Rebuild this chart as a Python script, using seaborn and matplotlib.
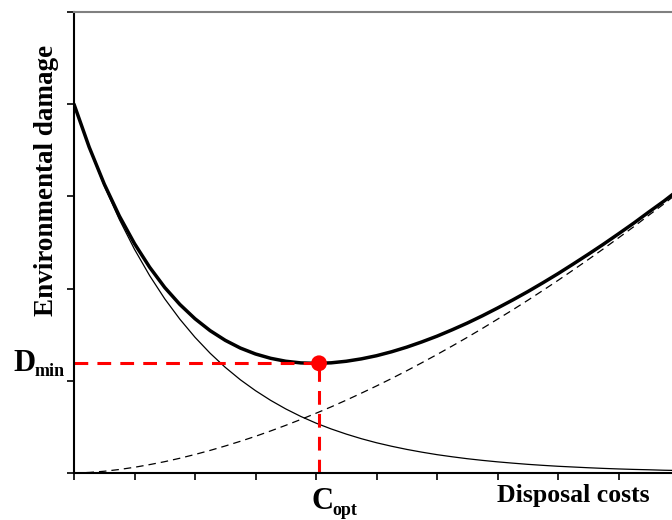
import matplotlib
matplotlib.use("Agg")
import matplotlib.pyplot as plt
import matplotlib.transforms as mtransforms
import seaborn as sns
import pandas as pd

# ---- data ----
x_vals = [0, 0.25, 0.5, 0.75, 1, 1.25, 1.5, 1.75, 2, 2.25, 2.5, 2.75, 3, 3.25, 3.5, 3.75,
          4, 4.25, 4.5, 4.75, 5, 5.25, 5.5, 5.75, 6, 6.25, 6.5, 6.75, 7, 7.25, 7.5, 7.75,
          8, 8.25, 8.5, 8.75, 9, 9.25, 9.5, 9.75, 10]
damage_vals = [4.000, 3.530, 3.115, 2.749, 2.426, 2.141, 1.889, 1.668, 1.472, 1.299, 1.146,
               1.011, 0.893, 0.788, 0.695, 0.613, 0.541, 0.478, 0.422, 0.372, 0.328, 0.290,
               0.256, 0.226, 0.199, 0.176, 0.155, 0.137, 0.121, 0.107, 0.094, 0.083, 0.073,
               0.065, 0.057, 0.050, 0.044, 0.039, 0.035, 0.030, 0.027]
cost_vals = [0.000, 0.006, 0.019, 0.038, 0.062, 0.091, 0.123, 0.160, 0.201, 0.245, 0.293,
             0.344, 0.398, 0.456, 0.517, 0.581, 0.648, 0.717, 0.790, 0.866, 0.944, 1.025,
             1.109, 1.196, 1.285, 1.377, 1.471, 1.568, 1.668, 1.769, 1.873, 1.980, 2.089,
             2.201, 2.315, 2.431, 2.550, 2.670, 2.795, 2.918, 3.048]
total_vals = [4.000, 3.536, 3.134, 2.787, 2.488, 2.232, 2.012, 1.828, 1.673, 1.544, 1.439,
              1.355, 1.291, 1.244, 1.212, 1.194, 1.189, 1.195, 1.212, 1.238, 1.272, 1.315,
              1.365, 1.422, 1.484, 1.553, 1.626, 1.705, 1.789, 1.876, 1.967, 2.063, 2.162,
              2.266, 2.372, 2.481, 2.594, 2.709, 2.830, 2.948, 3.075]
c_opt = 4.05
d_min = 1.19
x_ticks = [0, 1, 2, 3, 4, 5, 6, 7, 8, 9, 10]
y_ticks = [0, 1, 2, 3, 4, 5]
x_label = "Disposal costs"
y_label = "Environmental damage"

df = pd.DataFrame({"x": x_vals, "damage": damage_vals, "cost": cost_vals, "total": total_vals})

sns.set_theme(style="white")
plt.rcParams["font.family"] = ["Liberation Serif", "DejaVu Serif"]

fig = plt.figure(figsize=(6.72, 5.2), dpi=100)
ax = fig.add_axes([74 / 672, 47 / 520, 605 / 672, 461 / 520])

sns.lineplot(data=df, x="x", y="damage", ax=ax, color="black", linewidth=0.9,
             estimator=None, sort=False)
sns.lineplot(data=df, x="x", y="cost", ax=ax, color="black", linewidth=0.9,
             estimator=None, sort=False)
ax.lines[-1].set_dashes([6, 4])
sns.lineplot(data=df, x="x", y="total", ax=ax, color="black", linewidth=2.5,
             estimator=None, sort=False)

# red guide lines and optimum point
ax.plot([0, c_opt], [d_min, d_min], color="#ff0000", linewidth=2.2, dashes=[4.5, 3])
ax.plot([c_opt, c_opt], [0, d_min], color="#ff0000", linewidth=2.2, dashes=[4.5, 3])
sns.scatterplot(x=[c_opt], y=[d_min], ax=ax, color="#ff0000", s=130, edgecolor="none", zorder=5)

ax.set_xlim(0, 10)
ax.set_ylim(0, 5)
ax.set_xticks(x_ticks)
ax.set_yticks(y_ticks)
ax.set_xticklabels([])
ax.set_yticklabels([])
ax.tick_params(axis="both", direction="out", length=5, width=1.2, color="black",
               bottom=True, left=True)
ax.set_xlabel("")
ax.set_ylabel("")

for side in ["left", "bottom"]:
    ax.spines[side].set_color("black")
    ax.spines[side].set_linewidth(1.5)
ax.spines["top"].set_color("#808080")
ax.spines["top"].set_linewidth(1.5)
ax.spines["right"].set_visible(False)

bold = dict(fontweight="bold", color="black")
# axis titles
fig.text(47 / 672, 1 - 180 / 520, y_label, rotation=90, ha="center", va="center",
         fontsize=19.5, **bold)
fig.text(573 / 672, 1 - 502 / 520, x_label, ha="center", va="baseline", fontsize=18.5, **bold)

# D_min label (left of axis at d_min height)
trans_y = mtransforms.blended_transform_factory(fig.transFigure, ax.transData)
ax.text(13 / 672, d_min, "D", transform=trans_y, ha="left", va="center",
        fontsize=22, **bold)
ax.text(35 / 672, d_min, "min", transform=trans_y, ha="left", va="top",
        fontsize=13, **bold)

# C_opt label (below axis at c_opt)
trans_x = mtransforms.blended_transform_factory(ax.transData, fig.transFigure)
trans_c = mtransforms.offset_copy(trans_x, fig=fig, x=-8, y=0, units="dots")
trans_o = mtransforms.offset_copy(trans_x, fig=fig, x=13, y=0, units="dots")
ax.text(c_opt, 1 - 509 / 520, "C", transform=trans_c, ha="left", va="baseline",
        fontsize=22, **bold)
ax.text(c_opt, 1 - 515 / 520, "opt", transform=trans_o, ha="left", va="baseline",
        fontsize=13, **bold)

fig.savefig("out.png", dpi=100)
